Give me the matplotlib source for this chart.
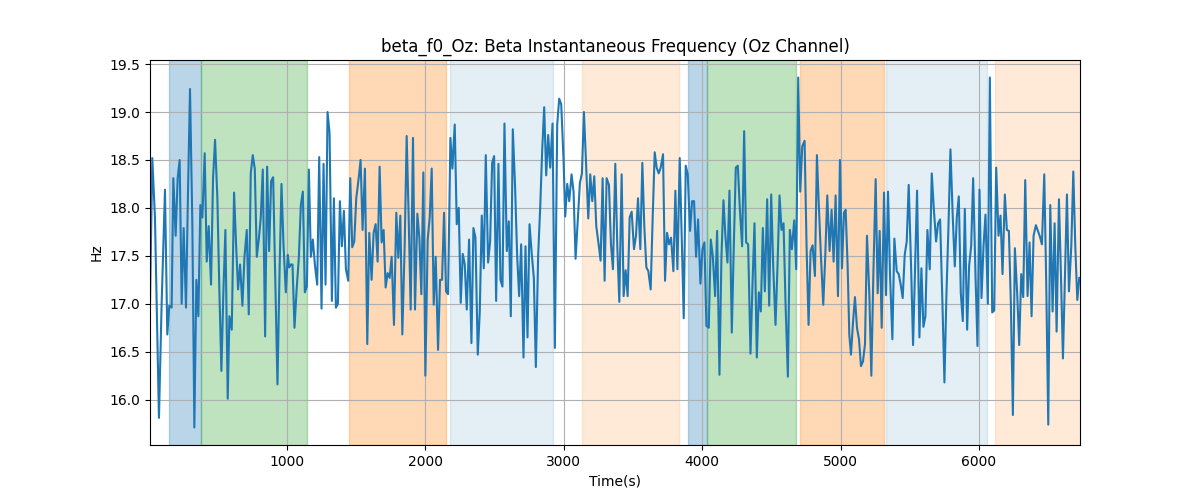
import matplotlib
matplotlib.use("Agg")
import matplotlib.pyplot as plt

times = [
    10.0, 26.5, 45.8, 74.7, 94.0, 118.2, 135.0, 149.5, 166.4, 178.5, 195.3, 209.8, 224.3, 238.8, 253.2, 270.1,
    284.6, 299.1, 315.9, 330.4, 344.9, 359.4, 373.8, 388.3, 405.2, 419.7, 434.1, 451.0, 465.5, 480.0, 496.8,
    511.3, 525.8, 540.3, 554.7, 571.6, 583.7, 600.6, 617.4, 631.9, 646.4, 660.9, 677.7, 692.2, 709.1, 723.6,
    738.0, 752.5, 767.0, 781.5, 795.9, 810.4, 824.9,
    841.8, 856.3, 870.7, 885.2, 899.7, 916.6, 931.0, 945.5, 960.0, 974.4, 991.3, 1005.8, 1015.5, 1027.5,
    1039.6, 1054.0, 1068.5, 1085.4, 1099.9, 1114.3, 1128.8, 1143.3, 1157.8, 1172.2, 1186.7, 1201.2, 1218.1,
    1232.5, 1249.4, 1263.9, 1278.4, 1292.8, 1307.3, 1324.2, 1338.7, 1353.1, 1367.6, 1382.1, 1396.5, 1411.0,
    1425.5, 1442.4, 1456.8, 1471.3, 1485.8, 1500.3, 1517.1, 1531.6, 1546.1, 1563.0, 1579.9, 1594.3, 1611.2,
    1625.7, 1640.2, 1654.6, 1669.1,
    1683.6, 1698.1, 1712.5, 1727.0, 1741.5, 1756.0, 1772.8, 1789.7, 1804.2, 1818.7, 1833.1, 1850.0, 1864.5,
    1879.0, 1893.4, 1910.3, 1924.8, 1941.7, 1956.1, 1970.6, 1985.1, 1999.6, 2016.4, 2030.9, 2045.4, 2059.9,
    2074.3, 2091.2, 2105.7, 2120.2, 2134.6, 2149.1, 2163.6, 2180.5, 2194.9, 2211.8, 2226.3, 2240.8, 2255.2,
    2269.7, 2284.2, 2298.7, 2315.5, 2332.4, 2346.9, 2361.4, 2378.3, 2392.7, 2407.2, 2421.7, 2436.1, 2453.0,
    2467.5, 2482.0, 2496.4, 2510.9,
    2527.7, 2542.2, 2556.7, 2571.1, 2588.0, 2602.5, 2617.0, 2631.4, 2648.3, 2662.8, 2677.3, 2691.7, 2708.6,
    2723.1, 2737.6, 2752.0, 2768.9, 2783.4, 2797.9, 2814.7, 2829.2, 2843.7, 2858.2, 2872.6, 2887.1, 2901.6,
    2918.5, 2935.3, 2952.2, 2966.7, 2981.2, 2998.1, 3010.1, 3024.6, 3039.1, 3055.9, 3070.4, 3084.9, 3101.8,
    3116.2, 3130.7, 3145.2, 3159.7, 3176.5, 3191.0, 3205.5, 3220.0, 3234.4, 3248.9, 3265.8, 3280.3, 3294.7,
    3309.2, 3326.1, 3340.6, 3355.0,
    3371.9, 3386.4, 3400.9, 3417.8, 3432.2, 3446.7, 3461.2, 3475.7, 3490.1, 3507.0, 3521.5, 3536.0, 3552.8,
    3567.3, 3581.8, 3596.3, 3610.7, 3627.6, 3642.1, 3656.6, 3671.0, 3685.5, 3700.0, 3716.9, 3731.3, 3745.8,
    3760.3, 3774.7, 3791.6, 3806.1, 3820.6, 3837.5, 3851.9, 3866.4, 3880.9, 3895.3, 3912.2, 3926.7, 3941.2,
    3955.6, 3970.1, 3987.0, 4001.5, 4015.9, 4030.4, 4047.3, 4061.8, 4076.2, 4093.1, 4107.6, 4124.5, 4139.0,
    4153.4, 4167.9, 4182.4, 4196.8,
    4213.7, 4228.1, 4242.6, 4257.1, 4271.5, 4288.4, 4302.9, 4317.4, 4331.8, 4348.7, 4363.2, 4377.7, 4394.6,
    4409.0, 4423.5, 4438.0, 4452.4, 4469.3, 4483.8, 4498.3, 4512.7, 4529.6, 4544.1, 4558.6, 4573.0, 4587.5,
    4602.0, 4618.9, 4633.3, 4647.8, 4664.7, 4679.2, 4693.6, 4708.1, 4722.6, 4739.5, 4753.9, 4768.4, 4782.9,
    4797.4, 4814.2, 4828.7, 4843.2, 4857.7, 4874.5, 4889.0, 4903.5, 4920.4, 4934.8, 4949.3, 4963.8, 4980.7,
    4995.1, 5009.6, 5024.1,
    5036.2, 5050.6, 5062.7, 5074.8, 5089.2, 5103.7, 5118.2, 5132.7, 5147.1, 5161.6, 5176.1, 5190.5, 5207.4,
    5221.9, 5236.4, 5253.3, 5267.7, 5282.2, 5296.7, 5313.6, 5328.0, 5342.5, 5357.0, 5373.9, 5388.3, 5405.2,
    5419.7, 5434.2, 5448.6, 5463.1, 5477.6, 5492.0, 5508.9, 5523.4, 5537.9, 5552.3, 5569.2, 5583.7, 5598.2,
    5612.6, 5627.1, 5644.0, 5658.5, 5672.9, 5689.8, 5704.3, 5718.8, 5735.7, 5750.1, 5764.6, 5779.1, 5793.5,
    5810.4, 5824.9, 5839.4, 5853.8, 5868.3,
    5882.8, 5897.3, 5914.2, 5928.6, 5943.1, 5957.6, 5974.5, 5988.9, 6003.4, 6017.9, 6032.4, 6046.8, 6063.7,
    6078.2, 6095.1, 6109.5, 6124.0, 6140.9, 6155.4, 6169.8, 6186.7, 6201.2, 6215.7, 6230.1, 6244.6, 6259.1,
    6276.0, 6290.4, 6304.9, 6319.4, 6333.9, 6350.7, 6365.2, 6379.7, 6394.1, 6411.0, 6425.5, 6440.0, 6454.5,
    6471.3, 6485.8, 6500.3, 6514.8, 6531.6, 6546.1, 6560.6, 6577.5, 6591.9, 6606.4, 6620.9, 6635.3, 6649.8,
    6666.7, 6681.2, 6695.6, 6710.1, 6724.6,
]

beta_f0 = [
    17.00, 18.52, 17.90, 15.81, 17.00, 18.19, 16.68, 16.98, 16.96, 18.31, 17.71, 18.31, 18.50, 17.00, 17.79, 16.96,
    18.17, 19.24, 17.83, 15.71, 17.25, 16.87, 18.03, 17.90, 18.57, 17.44, 17.81, 17.20, 18.31, 18.71, 18.10,
    17.13, 16.30, 17.13, 17.77, 16.01, 16.87, 16.73, 18.16, 17.62, 17.15, 17.41, 16.98, 17.48, 17.77, 16.89,
    18.36, 18.55, 18.41, 17.49, 17.67, 17.90, 18.40,
    16.66, 18.43, 17.55, 18.28, 18.32, 17.13, 16.16, 17.30, 18.25, 17.62, 17.12, 17.51, 17.38, 17.41,
    17.41, 16.75, 17.13, 17.48, 18.03, 18.17, 17.12, 17.18, 18.40, 17.49, 17.67, 17.41, 17.20,
    18.53, 16.95, 18.46, 17.20, 19.00, 18.78, 17.03, 18.10, 16.96, 17.00, 18.07, 17.60, 17.97,
    17.36, 17.24, 18.31, 17.59, 17.65, 18.10, 18.30, 18.50, 17.77, 18.41, 16.58, 17.74, 17.25,
    17.74, 17.83, 17.44, 18.43,
    17.64, 17.77, 17.17, 17.32, 17.27, 17.49, 16.78, 17.95, 17.48, 17.92, 16.68, 17.60, 18.75,
    17.90, 16.94, 18.73, 16.94, 17.94, 17.69, 17.10, 18.37, 16.25, 17.67, 17.90, 18.41, 16.99,
    17.49, 16.52, 17.25, 17.25, 17.95, 17.13, 17.10, 18.73, 18.41, 18.87, 17.83, 18.00, 17.01,
    17.52, 17.41, 16.94, 17.67, 16.59, 17.79, 17.69, 16.47, 16.92, 17.92, 17.37, 18.55, 17.43,
    17.65, 18.47, 18.54, 17.03,
    18.46, 17.25, 17.18, 18.88, 17.55, 17.86, 16.87, 18.82, 18.20, 17.50, 17.08, 17.62, 16.44,
    17.60, 16.65, 17.83, 17.51, 17.27, 16.34, 17.51, 18.00, 18.60, 19.05, 18.34, 18.76, 18.42,
    18.88, 16.54, 18.87, 19.14, 19.08, 18.50, 17.91, 18.25, 18.07, 18.35, 18.17, 17.47, 17.90,
    18.26, 18.36, 19.00, 18.50, 17.89, 18.35, 18.07, 18.33, 17.81, 17.65, 17.45, 18.31, 17.24,
    18.31, 18.24, 17.62, 17.36,
    18.46, 17.60, 17.02, 18.35, 17.08, 17.35, 17.08, 17.90, 17.96, 17.57, 17.71, 18.10, 17.57,
    18.47, 17.80, 17.38, 17.34, 17.15, 17.90, 18.58, 18.42, 18.36, 18.42, 18.56, 17.24, 17.74,
    17.62, 17.69, 17.34, 18.18, 17.36, 18.52, 17.70, 16.85, 18.44, 18.35, 17.76, 18.07, 18.07,
    17.49, 17.88, 17.21, 17.57, 17.64, 16.77, 16.75, 17.67, 17.50, 17.08, 17.76, 16.26, 17.50,
    18.08, 17.70, 17.43, 18.18,
    16.70, 17.60, 18.42, 18.44, 18.00, 17.60, 18.80, 17.64, 17.62, 16.48, 17.20, 17.84, 16.44,
    17.12, 16.92, 17.79, 17.13, 18.09, 16.98, 18.14, 17.40, 16.78, 17.40, 18.13, 17.77, 17.84,
    17.00, 16.24, 17.77, 17.57, 17.87, 17.36, 19.36, 18.17, 18.64, 18.70, 17.60, 16.78, 17.55,
    17.61, 17.29, 18.55, 18.00, 17.50, 16.99, 17.50, 18.13, 17.55, 17.98, 17.44, 18.13, 17.08,
    18.50, 17.37, 17.95,
    17.98, 17.40, 16.68, 16.47, 16.80, 17.07, 16.75, 16.63, 16.35, 16.40, 16.58, 17.71, 17.10,
    16.25, 17.30, 18.30, 17.11, 17.76, 16.75, 18.16, 17.09, 18.17, 17.30, 16.63, 17.68, 17.34,
    17.31, 17.20, 17.06, 17.51, 17.65, 18.24, 17.40, 16.57, 17.40, 18.18, 16.65, 17.37, 16.76,
    16.87, 17.77, 17.36, 18.36, 18.00, 17.65, 17.84, 17.88, 17.00, 16.18, 17.10, 17.80, 18.61,
    17.90, 17.39, 17.90, 18.12, 17.11,
    16.82, 17.99, 16.73, 17.40, 17.60, 18.31, 17.30, 16.56, 18.19, 17.06, 17.60, 17.93, 17.00,
    19.36, 16.91, 16.93, 18.42, 17.71, 17.92, 17.31, 18.14, 17.77, 17.76, 17.00, 15.84, 17.58,
    17.10, 16.57, 17.31, 17.07, 18.29, 17.08, 17.64, 16.87, 17.71, 17.82, 17.76, 17.70, 17.62,
    18.35, 17.20, 15.74, 18.03, 16.92, 17.84, 16.71, 18.09, 17.30, 16.43, 17.30, 18.14, 17.13,
    17.60, 18.38, 17.60, 17.04, 17.27,
]

span_starts = [145, 381, 1447, 2178, 3133, 3895, 4035, 4710, 5330, 6114]
span_ends = [381, 1141, 2149, 2923, 3835, 4035, 4674, 5311, 6061, 6760]
span_colors = ["tab:blue", "tab:green", "tab:orange", "tab:blue", "tab:orange",
               "tab:blue", "tab:green", "tab:orange", "tab:blue", "tab:orange"]
span_alphas = [0.3, 0.3, 0.3, 0.12, 0.16, 0.3, 0.3, 0.3, 0.12, 0.16]

fig, ax = plt.subplots(figsize=(12, 5), dpi=100)
for s, e, c, a in zip(span_starts, span_ends, span_colors, span_alphas):
    ax.axvspan(s, e, color=c, alpha=a)
ax.plot(times, beta_f0, color="tab:blue", linewidth=1.5)
ax.set_xlim(times[0], times[-1] + 5)
ax.grid(True)
ax.set_title("beta_f0_Oz: Beta Instantaneous Frequency (Oz Channel)")
ax.set_xlabel("Time(s)")
ax.set_ylabel("Hz")
fig.savefig("out.png")
